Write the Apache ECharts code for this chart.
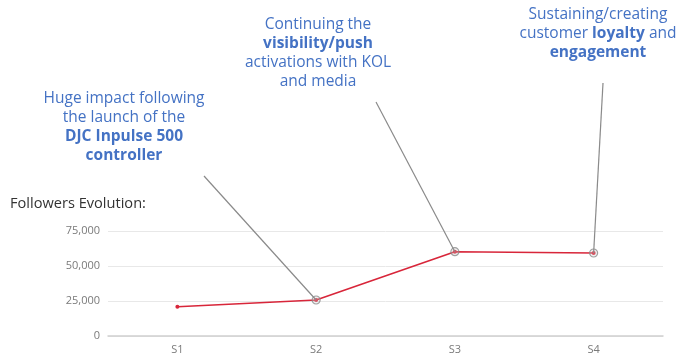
<!DOCTYPE html>
<html><head><meta charset="utf-8">
<script src="https://cdn.jsdelivr.net/npm/echarts@6/dist/echarts.min.js"></script>
<style>html,body{margin:0;padding:0;background:#fff}#c{width:678px;height:358px}</style>
</head><body><div id="c"></div>
<script>
const categories = ['S1', 'S2', 'S3', 'S4'];
const followers = [20900, 25700, 60200, 59300];
const highlighted = [null, 25700, 60200, 59300];
const yTicks = [0, 25000, 50000, 75000];
const titleText = 'Followers Evolution:';
const notes = [
  '{n|Huge impact following}\n{n|the launch of the}\n{b|DJC Inpulse 500}\n{b|controller}',
  '{n|Continuing the}\n{b|visibility/push}\n{n|activations with KOL}\n{n|and media}',
  '{n|Sustaining/creating}\n{n|customer }{b|loyalty}{n| and}\n{b|engagement}'
];

const chart = echarts.init(document.getElementById('c'));
const blue = '#4472C4';
const fs = 15.5;
const richStyle = {
  n: {fontFamily: 'Open Sans', fontSize: fs, lineHeight: 19, fill: blue},
  b: {fontFamily: 'Open Sans', fontSize: fs, lineHeight: 19, fontWeight: 'bold', fill: blue}
};
function note(text, x, y) {
  return {type: 'text', x: x, y: y, z: 10,
    style: {text: text, rich: richStyle, align: 'center', verticalAlign: 'top',
      fontFamily: 'Open Sans', fontSize: fs, lineHeight: 19, fill: blue}};
}
const lineStyle = {color: '#8a8a8a', width: 1.2, type: 'solid'};
chart.setOption({
  animation: false,
  grid: {left: 108, right: 15, top: 231, bottom: 22, containLabel: false},
  xAxis: {type: 'category', data: categories, boundaryGap: true,
    axisLine: {lineStyle: {color: '#cfcfcf', width: 1.5}}, axisTick: {show: false},
    axisLabel: {color: '#7a7a7a', fontFamily: 'Open Sans', fontSize: 11, margin: 8}},
  yAxis: {type: 'value', min: yTicks[0], max: yTicks[yTicks.length - 1], interval: yTicks[1] - yTicks[0],
    axisLine: {show: false}, axisTick: {show: false},
    axisLabel: {color: '#7a7a7a', fontFamily: 'Open Sans', fontSize: 11, margin: 8,
      formatter: v => v.toLocaleString('en-US')},
    splitLine: {lineStyle: {color: '#e8e8e8'}}},
  graphic: [
    {type: 'text', x: 10, y: 196, style: {text: titleText, fontFamily: 'Open Sans', fontSize: 14.6, fill: '#333'}},
    note(notes[0], 124, 89),
    note(notes[1], 318, 15),
    note(notes[2], 598, 5)
  ],
  series: [
    {type: 'line', data: followers, symbol: 'circle', symbolSize: 4, z: 3,
      lineStyle: {color: '#d8263a', width: 1.6}, itemStyle: {color: '#d8263a'},
      markLine: {silent: true, symbol: 'none', label: {show: false}, lineStyle: lineStyle,
        data: [
          [{x: 204, y: 176}, {coord: [categories[1], followers[1]]}],
          [{x: 376, y: 102}, {coord: [categories[2], followers[2]]}],
          [{x: 603, y: 83}, {coord: [categories[3], followers[3]]}]
        ]}},
    {type: 'scatter', data: highlighted, symbol: 'circle', symbolSize: 8, z: 4,
      itemStyle: {color: 'rgba(200,200,200,0.35)', borderColor: '#8a8a8a', borderWidth: 1.2}}
  ]
});
</script></body></html>
